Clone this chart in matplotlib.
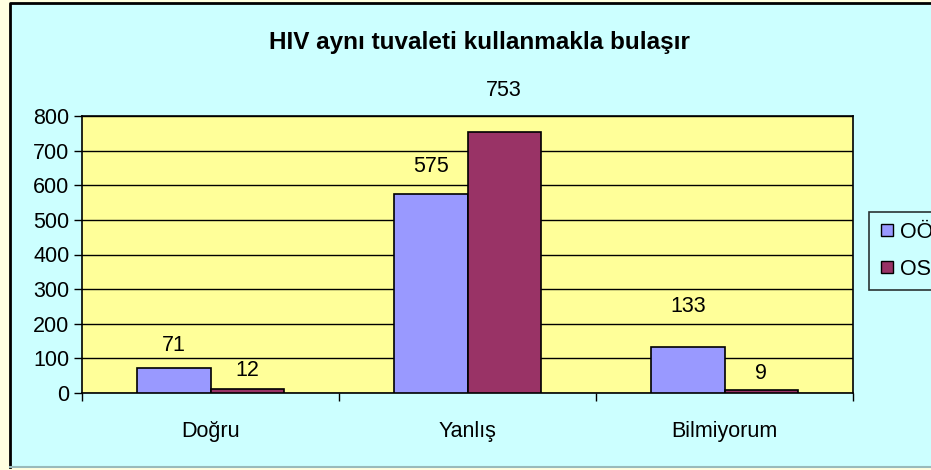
import numpy as np
import matplotlib.pyplot as plt
from matplotlib.patches import Rectangle
from matplotlib.lines import Line2D

plt.rcParams['font.family'] = ['Liberation Sans', 'DejaVu Sans']

categories = ['Doğru', 'Yanlış', 'Bilmiyorum']
series_names = ['OÖ', 'OS']
oo_values = [71, 575, 133]
os_values = [12, 753, 9]
y_ticks = [0, 100, 200, 300, 400, 500, 600, 700, 800]

colors = ['#9999FF', '#993366']

W, H = 931, 470
fig = plt.figure(figsize=(W / 100, H / 100), dpi=100)
fig.patch.set_facecolor('#FFFFE0')

# cyan chart area: black left/top border, light grey bottom edge
fig.patches.append(Rectangle((10 / W, 3 / H), 925 / W, 464 / H, transform=fig.transFigure,
                             facecolor='#CCFFFF', edgecolor='none', zorder=-10))
fig.lines.append(Line2D([10 / W, 10 / W, 1], [3 / H, 1 - 3 / H, 1 - 3 / H],
                        transform=fig.transFigure, color='black', linewidth=2, zorder=-9))
fig.lines.append(Line2D([10 / W, 1], [3 / H, 3 / H], transform=fig.transFigure,
                        color='#99BBBB', linewidth=1.5, zorder=-9))

ax = fig.add_axes([82 / W, (H - 393) / H, (853 - 82) / W, (393 - 116) / H])
ax.set_facecolor('#FFFF99')
ax.set_zorder(2)

fs = 15.5
x = np.arange(len(categories))
bw = 1 / 3.5
vals = [oo_values, os_values]
offsets = [[23, 27, 40], [18, 42, 16]]
for i, v in enumerate(vals):
    pos = x - bw / 2 + i * bw
    ax.bar(pos, v, width=bw, color=colors[i], edgecolor='black', linewidth=1.2, zorder=3)
    for px, val, off in zip(pos, v, offsets[i]):
        ax.annotate(str(val), (px, val), xytext=(0, off * 0.72), textcoords='offset points',
                    ha='center', va='center', fontsize=fs, annotation_clip=False)

ax.set_xlim(-0.5, len(categories) - 0.5)
ax.set_ylim(0, 800)
ax.set_yticks(y_ticks)
ax.tick_params(axis='y', labelsize=fs, direction='out', length=6, width=1, pad=3)
ax.yaxis.grid(True, color='black', linewidth=1)
ax.set_axisbelow(True)

ax.set_xticks(np.arange(len(categories) + 1) - 0.5)
ax.set_xticklabels([])
ax.tick_params(axis='x', direction='out', length=6, width=1)
ax.set_xticks(x, minor=True)
ax.set_xticklabels(categories, minor=True)
ax.tick_params(axis='x', which='minor', length=0, labelsize=fs, pad=20)

for s in ax.spines.values():
    s.set_linewidth(1.2)
    s.set_color('black')

fig.text(479 / W, 1 - 42 / H, 'HIV aynı tuvaleti kullanmakla bulaşır', ha='center', va='center',
         fontsize=17.5, fontweight='bold')

handles = [Line2D([], [], marker='s', linestyle='none', markersize=8, markerfacecolor=c,
                  markeredgecolor='black') for c in colors]
leg = fig.legend(handles, series_names, loc='upper left', bbox_to_anchor=(869 / W, 1 - 212 / H),
                 fontsize=fs, frameon=True, fancybox=False, edgecolor='black', handlelength=0.8,
                 handletextpad=0.2, borderpad=0.45, labelspacing=0.75, borderaxespad=0)
leg.get_frame().set_linewidth(1.2)
leg.get_frame().set_facecolor('#CCFFFF')

fig.savefig('out.png', dpi=100, facecolor=fig.get_facecolor())
